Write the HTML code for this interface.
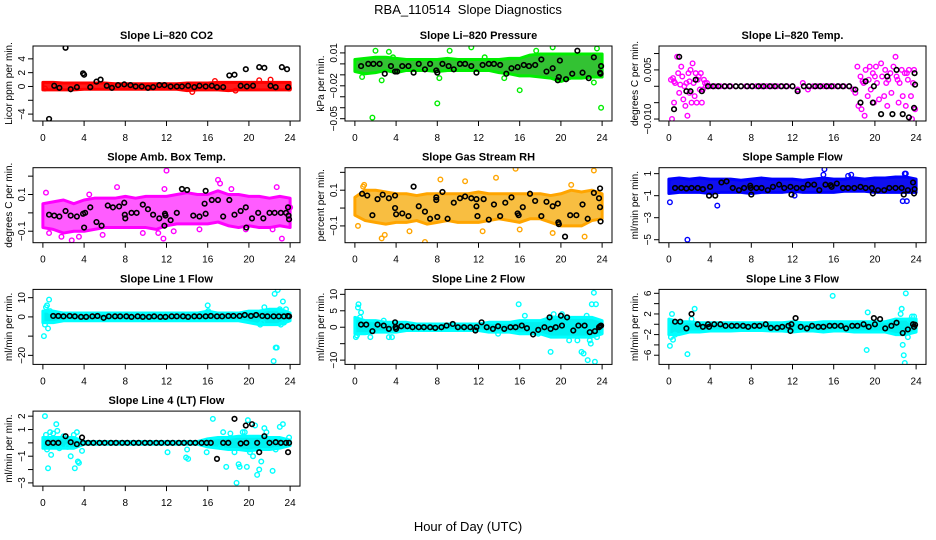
<!DOCTYPE html>
<html><head><meta charset="utf-8">
<style>
html,body{margin:0;padding:0;background:#fff;}
svg{display:block;font-family:"Liberation Sans",Arial,sans-serif;}
</style></head>
<body>
<svg id="chart" width="936" height="540" viewBox="0 0 936 540" xmlns="http://www.w3.org/2000/svg">
<rect width="936" height="540" fill="#fff"/>
<text x="468" y="14" text-anchor="middle" font-size="13">RBA_110514&#160; Slope Diagnostics</text>
<text x="468" y="531" text-anchor="middle" font-size="13">Hour of Day (UTC)</text>
</svg>
<script>
// ---- data (hours 0..24 for band envelopes) ----
const bandHours = [0,1,2,3,4,5,6,7,8,9,10,11,12,13,14,15,16,17,18,19,20,21,22,23,24];
const xTicks = [0,4,8,12,16,20,24];

// P1 CO2
const co2Hi = [0.6,0.6,0.5,0.5,0.5,0.5,0.5,0.4,0.4,0.4,0.4,0.4,0.4,0.4,0.5,0.5,0.5,0.6,0.6,0.6,0.6,0.6,0.6,0.6,0.6];
const co2Lo = [-0.5,-0.5,-0.5,-0.5,-0.4,-0.4,-0.4,-0.4,-0.4,-0.4,-0.4,-0.4,-0.4,-0.4,-0.6,-0.5,-0.5,-0.5,-0.6,-0.5,-0.5,-0.5,-0.5,-0.5,-0.5];
const co2Col = [[0.2,-0.3],[14.5,-0.8],[16.7,0.8],[18.7,-0.6],[21,0.9],[22.1,1.0],[23.9,-0.3]];
const co2Blk = [[0.6,-4.7],[1.1,0.1],[1.6,-0.2],[2.2,5.6],[2.7,-0.4],[3.3,-0.1],[3.9,1.9],[4.0,1.7],[4.6,-0.1],[5.2,0.7],[5.6,1.0],[6.2,0.1],[6.7,-0.2],[7.3,0.2],[7.9,0.3],[8.5,0.2],[9.0,0],[9.6,0],[10.2,-0.2],[10.7,-0.1],[11.3,0.2],[11.8,0.2],[12.4,0],[13.0,0],[13.5,0],[14.1,0.1],[14.7,-0.1],[15.2,0.1],[15.8,0],[16.4,0.1],[16.9,-0.1],[17.5,-0.1],[18.1,1.6],[18.6,1.7],[19.2,0.1],[19.7,2.5],[19.8,0],[20.4,0.1],[21.0,2.8],[21.5,2.7],[22.1,0.1],[22.6,-0.1],[23.2,2.8],[23.7,2.5],[23.8,-0.1]];
const co2Ticks = [-4,-2,0,2,4];
const co2Labels = ["−4","","0","2","4"];

// P2 Pressure
const presHi = [0.004,0.005,0.006,0.006,0.005,0.004,0.004,0.004,0.004,0.005,0.004,0.004,0.004,0.004,0.004,0.005,0.005,0.008,0.009,0.009,0.009,0.009,0.009,0.009,0.009];
const presLo = [-0.007,-0.009,-0.008,-0.006,-0.008,-0.006,-0.006,-0.006,-0.007,-0.006,-0.006,-0.006,-0.006,-0.006,-0.008,-0.009,-0.011,-0.011,-0.012,-0.013,-0.016,-0.013,-0.013,-0.012,-0.012];
const presCol = [[1.7,-0.049],[8,-0.036],[16,-0.024],[23.9,-0.040],[2,0.012],[3.3,0.011],[9.2,0.012],[11.3,0.015],[17.6,0.012],[19.2,0.015],[23.5,0.014],[2.6,-0.015],[8.2,-0.013],[14.5,-0.013],[23.2,-0.017],[0.7,-0.012],[3.7,0.006],[12.6,0.006]];
const presBlk = [[0.6,-0.002],[1.3,0],[1.8,0],[2.4,0],[2.9,-0.009],[3.5,-0.002],[3.9,-0.007],[4.1,-0.007],[4.6,-0.002],[5.2,-0.002],[5.7,-0.008],[6.2,0],[6.8,-0.005],[7.3,0],[7.9,-0.006],[8.0,-0.008],[8.5,0],[9.1,-0.002],[9.6,-0.005],[10.2,0],[10.7,0],[11.3,-0.002],[11.8,-0.008],[12.4,-0.001],[13,0],[13.5,0],[14.1,-0.001],[14.7,-0.009],[15.2,-0.004],[15.8,-0.003],[16.4,-0.001],[16.9,-0.002],[17.5,-0.001],[18.1,0.004],[18.6,-0.007],[19.2,-0.004],[19.7,-0.015],[19.8,-0.012],[19.9,0.003],[20.5,-0.014],[21.1,-0.009],[21.6,0.012],[22.1,-0.008],[22.7,-0.013],[23.2,0.006],[23.8,-0.008],[23.85,-0.009],[23.9,-0.002]];
const presTicks = [0.01,0,-0.01,-0.02,-0.03,-0.04,-0.05];
const presLabels = ["0.01","","","−0.02","","","−0.05"];

// P3 Li-820 Temp
const tempCol = [[0.2,0.002],[0.3,-0.01],[0.4,0.0025],[0.5,-0.005],[0.6,0.001],[0.8,0.009],[0.9,0.004],[1.0,-0.002],[1.2,0.006],[1.3,0.003],[1.4,-0.004],[1.5,0.0],[1.6,-0.006],[1.7,0.001],[1.8,-0.009],[1.9,0.004],[2.0,-0.002],[2.1,0.005],[2.2,-0.005],[2.3,0.007],[2.4,0.001],[2.5,-0.003],[2.6,0.004],[2.7,-0.005],[2.8,0.002],[2.9,0.003],[3.0,-0.001],[3.1,0.004],[3.2,-0.005],[3.4,0.002],[3.5,0.001],[3.6,0.0],[3.7,0.001],[0.5,0.0015],[1.1,0.0005],[2.0,0.0015],[3.3,-0.001],
[4,0],[4.5,0],[5,0],[5.5,0],[6,0],[6.5,0],[7,0],[7.5,0],[8,0],[8.5,0],[9,0],[9.5,0],[10,0],[10.5,0],[11,0],[11.5,0],[12,0],[12.5,-0.001],[13,0.001],[13.5,-0.001],[14,0],[14.5,0],[15,0],[15.5,0],[16,0],[16.5,0],[17,0],[17.5,0],
[17.9,-0.001],[18.1,-0.002],[18.3,0.006],[18.4,-0.006],[18.6,0.003],[18.7,-0.007],[18.9,0.001],[19.0,-0.009],[19.1,0.005],[19.3,-0.003],[19.4,0.002],[19.5,0.006],[19.6,-0.001],[19.8,0.004],[19.9,-0.005],[20.1,0.006],[20.2,0.001],[20.4,-0.004],[20.6,0.007],[20.7,0.003],[20.9,-0.003],[21.0,0.005],[21.2,-0.006],[21.3,0.002],[21.5,0.004],[21.6,-0.002],[21.8,0.006],[22.0,0.009],[22.1,0.003],[22.3,-0.005],[22.4,0.001],[22.6,0.005],[22.7,-0.003],[22.9,0.004],[23.0,-0.006],[23.2,0.002],[23.3,0.005],[23.5,-0.003],[23.6,-0.01],[23.7,0.001],[23.8,0.005],[23.9,-0.007],[18.8,0.0015],[20.0,0.003],[21.1,0.001],[22.2,0.002],[23.1,0.004]];
const tempBlk = [[0.5,-0.007],[1.0,0.009],[1.7,-0.0015],[2.1,-0.0015],[2.6,0.002],[3.2,-0.0015],[3.8,0],[4.3,0],[4.8,0],[5.4,0],[5.9,0],[6.5,0],[7.0,0],[7.6,0],[8.1,0],[8.7,0],[9.2,0],[9.8,0],[10.3,0],[10.9,0],[11.4,0],[12.0,0],[12.5,-0.0015],[13.1,0],[13.6,0],[14.2,0],[14.7,0],[15.3,0],[15.8,0],[16.4,0],[16.9,0],[17.5,0],[18.1,-0.001],[18.6,-0.005],[19.1,0.0015],[19.8,-0.005],[19.9,0],[20.6,-0.0085],[21.2,0.003],[21.7,-0.0085],[22.1,0.005],[22.7,-0.0085],[23.3,-0.0095],[23.8,-0.0066],[23.85,0.004],[23.9,0.0005]];
const tempTicks = [0.01,0.005,0,-0.005,-0.01];
const tempLabels = ["","0.005","","","−0.010"];

// P4 Amb Box Temp
const ambHi = [0.05,0.06,0.07,0.05,0.07,0.08,0.08,0.08,0.09,0.08,0.09,0.09,0.09,0.1,0.11,0.1,0.1,0.12,0.1,0.1,0.09,0.09,0.08,0.09,0.08];
const ambLo = [-0.08,-0.09,-0.11,-0.1,-0.1,-0.09,-0.08,-0.08,-0.08,-0.08,-0.08,-0.09,-0.07,-0.06,-0.06,-0.06,-0.06,-0.05,-0.07,-0.08,-0.07,-0.08,-0.08,-0.07,-0.08];
const ambCol = [[0.3,0.11],[0.6,-0.11],[1.8,-0.13],[2.8,-0.15],[3.5,-0.13],[4.5,0.1],[5.8,-0.12],[7.2,0.14],[9.7,-0.11],[11.2,-0.11],[11.7,-0.14],[12,0.23],[12.7,-0.1],[11.8,0.13],[15.2,-0.09],[17,0.18],[17.2,0.16],[18.3,0.13],[19.7,-0.09],[22.7,0.14],[23.2,-0.14],[22.3,-0.09],[24,0.03]];
const ambBlk = [[0.6,-0.01],[1.1,-0.015],[1.6,-0.02],[2.2,0.01],[2.7,-0.015],[3.3,-0.02],[3.9,-0.005],[4.0,-0.08],[4.1,0],[4.6,0.03],[5.2,-0.05],[5.7,-0.07],[6.3,0.04],[6.8,0.03],[7.4,0.035],[7.9,0.055],[7.95,-0.01],[8.0,-0.03],[8.6,0],[9.1,0],[9.7,0.045],[10.2,0.02],[10.7,-0.01],[11.3,-0.03],[11.8,-0.07],[11.85,-0.005],[11.9,-0.015],[12.4,-0.04],[13,0],[13.5,0.13],[14.0,0.125],[14.6,-0.015],[15.2,-0.02],[15.8,0.12],[15.7,0.05],[15.8,-0.005],[16.4,0.07],[17.0,0.07],[17.5,-0.02],[18.1,0.07],[18.6,-0.01],[19.2,0.01],[19.7,0.03],[19.75,-0.08],[20.3,-0.03],[20.9,0],[21.4,-0.03],[22.0,0],[22.5,0],[23.1,0],[23.6,0],[23.8,0.03],[23.85,-0.015],[23.9,-0.035]];
const ambTicks = [0.2,0.1,0,-0.1];
const ambLabels = ["","0.1","","−0.1"];

// P5 Gas Stream RH
const rhHi = [0.06,0.1,0.1,0.09,0.08,0.08,0.07,0.08,0.08,0.08,0.08,0.08,0.09,0.08,0.08,0.08,0.08,0.08,0.08,0.07,0.08,0.1,0.09,0.1,0.08];
const rhLo = [-0.04,-0.07,-0.08,-0.09,-0.08,-0.08,-0.07,-0.09,-0.08,-0.07,-0.08,-0.08,-0.08,-0.07,-0.06,-0.07,-0.08,-0.06,-0.06,-0.08,-0.1,-0.1,-0.1,-0.07,-0.06];
const rhCol = [[0.3,-0.1],[0.9,0.13],[2.6,-0.17],[2.9,-0.15],[5.3,-0.13],[6.8,-0.19],[8.3,0.16],[10.7,0.15],[12.4,-0.13],[13.7,0.17],[15.6,0.22],[16,-0.12],[19.2,-0.14],[21,0.13],[22.3,-0.16],[23.2,0.21],[0.8,0.12]];
const rhBlk = [[0.7,0.08],[1.2,0.07],[1.7,-0.04],[2.2,0.05],[2.7,0.075],[3.3,0.055],[3.9,0.07],[3.9,0],[4.0,-0.035],[4.6,-0.03],[5.2,-0.045],[5.7,0.12],[6.2,0.01],[6.8,-0.02],[7.3,-0.06],[7.9,0.06],[7.9,0.045],[8.0,-0.05],[8.5,0.09],[9.0,-0.06],[9.6,0.03],[10.2,0.055],[10.7,0.065],[11.3,0.055],[11.8,0.05],[11.8,0.01],[11.9,-0.045],[12.5,0.05],[13,-0.065],[13.5,0.02],[14.1,-0.045],[14.6,0.03],[15.2,0.06],[15.8,-0.03],[15.9,-0.04],[16.3,0.005],[17.0,0.08],[17.5,0.04],[18.1,-0.045],[18.6,0.035],[19.2,0.01],[19.7,0.025],[19.75,-0.08],[19.8,-0.09],[20.4,-0.16],[20.9,-0.04],[21.5,-0.04],[22.1,0.02],[22.6,-0.06],[23.2,0.085],[23.7,0.055],[23.8,0.11],[23.8,0.005],[23.85,-0.075]];
const rhTicks = [0.2,0.1,0,-0.1];
const rhLabels = ["","0.1","","−0.1"];

// P6 Sample Flow
const sampHi = [0.5,0.6,0.5,0.6,0.5,0.5,0.5,0.4,0.5,0.6,0.5,0.5,0.5,0.4,0.5,0.6,0.5,0.5,0.6,0.5,0.6,0.6,0.7,0.7,0.5];
const sampLo = [-0.8,-0.7,-0.7,-0.7,-0.8,-0.7,-0.7,-0.7,-0.8,-0.7,-0.7,-0.7,-0.6,-0.7,-0.7,-0.7,-0.7,-0.6,-0.6,-0.6,-0.7,-0.7,-0.7,-0.7,-0.7];
const sampCol = [[0.1,-1.6],[1.8,-5.0],[4.7,-1.9],[15.1,1.4],[15.0,0.9],[17.4,0.8],[17.7,0.9],[22.7,-1.5],[23.1,-1.5],[22.9,1],[23.0,1],[12.2,-1.0]];
const sampBlk = [[0.6,-0.3],[1.2,-0.3],[1.7,-0.35],[2.2,-0.3],[2.8,-0.3],[3.3,-0.4],[3.9,-1.0],[4.0,-0.2],[4.5,-1.0],[5.1,0.2],[5.6,0.3],[6.2,-0.3],[6.8,-0.5],[7.3,-0.3],[7.9,-0.1],[7.95,-0.3],[8.0,-0.9],[8.5,-0.3],[9.0,-0.3],[9.6,-0.5],[10.1,-0.2],[10.7,0],[11.2,-0.3],[11.8,-0.2],[11.9,-0.9],[12.4,-0.3],[13,-0.3],[13.5,0],[14.1,0],[14.6,-0.5],[15.2,0],[15.7,-0.05],[15.8,-0.2],[16.3,0.1],[16.9,-0.3],[17.4,-0.3],[18.0,-0.3],[18.6,-0.2],[19.1,-0.3],[19.7,-0.3],[19.8,-0.8],[20.3,-0.5],[20.9,-0.5],[21.4,-0.3],[22.0,-0.3],[22.6,-0.3],[22.8,-0.9],[23.2,-0.5],[23.7,0.2],[23.8,-0.8],[23.85,-0.4]];
const sampTicks = [1,-1,-3,-5];
const sampLabels = ["1","−1","−3","−5"];

// P7 Line 1
const l1Hi = [3,3,2,2,2,2,2,2,2,2,2,2,2,2,2,2,3,2,2,2,3,3,4,4,2];
const l1Lo = [-3,-3,-2,-2,-2,-2,-2,-2,-2,-2,-2,-2,-2,-2,-2,-2,-2,-2,-2,-2,-3,-4,-4,-4,-2];
const l1Col = [[0.1,-10],[0.2,-4],[0.3,5],[0.4,6],[0.5,-6],[0.6,9],[0.7,3],[16,6],[16.05,3],[21.5,5],[21.3,-3],[22.4,-23],[22.6,-16],[22.7,-16],[22.5,12],[22.8,14],[23.0,4],[23.3,8],[23.4,-3],[23.6,4],[21.1,-4],[23.1,-4]];
const l1Blk = [[1.0,0.5],[1.5,0.5],[2.0,0.3],[2.6,0.5],[3.1,0.3],[3.7,0],[4.2,0],[4.8,0.3],[5.3,0.5],[5.9,-0.5],[6.4,0.3],[7.0,0.3],[7.5,0.3],[8.1,0.3],[8.6,0],[9.2,0.3],[9.7,0],[10.3,0],[10.8,0.3],[11.4,0],[11.9,0],[12.5,0.3],[13.0,0.3],[13.6,0.3],[14.1,0],[14.7,0.3],[15.2,0.3],[15.8,0.3],[16.3,0.5],[16.9,0.3],[17.4,0.3],[18.0,0.5],[18.5,0.5],[19.1,0.5],[19.6,1],[20.2,0.5],[20.7,1],[21.3,0.5],[21.8,0.3],[22.4,0.3],[22.9,0.3],[23.4,0.3],[23.8,0.5],[23.9,0.3]];
const l1Ticks = [10,0,-10,-20];
const l1Labels = ["10","0","","−20"];

// P8 Line 2
const l2Hi = [3,2,2,1.5,1.5,1.5,1,1,1,1,1,1,1,1.5,1.5,1.5,2,2,2,3,3,3,3,3,2];
const l2Lo = [-2,-2,-1.5,-1.5,-1.5,-1,-1,-1,-1,-1,-1,-1,-1,-1.5,-1.5,-1.5,-2,-2,-2,-3,-3,-3,-3,-3,-2];
const l2Col = [[0.1,-3],[0.2,-2.5],[0.3,6],[0.35,7],[0.5,3],[0.6,4.5],[1.5,-3],[2.8,2],[3.3,-3],[3.6,-3],[13.9,-2],[15.9,7],[16.5,3.5],[17.8,-2],[19.0,-7.5],[19.3,4],[20.1,4],[20.8,-4],[21.6,-4],[22.0,-7.5],[22.2,-8],[22.5,3.5],[22.6,-10],[22.8,-4],[23.0,7],[23.2,10.5],[23.3,-10.5],[23.4,7],[23.5,-3],[22.9,-5]];
const l2Blk = [[0.6,0.8],[1.1,0.8],[1.7,-1.2],[2.2,0.8],[2.8,0.5],[3.3,-0.5],[3.9,1.5],[3.95,0],[4.0,-0.5],[4.5,0.3],[5.1,0.3],[5.6,0],[6.2,0],[6.7,0],[7.3,0],[7.8,-0.2],[8.4,0],[8.9,0.5],[9.5,1],[10.0,0],[10.6,0],[11.2,0],[11.7,-1],[11.8,0],[12.3,1.5],[12.8,0],[13.4,-0.5],[13.9,0.3],[14.5,-0.5],[15.1,0],[15.6,0],[16.2,0.5],[16.7,-0.3],[17.3,-2.2],[17.8,-0.8],[18.4,0],[18.9,3],[19.0,-0.5],[19.5,0],[20.0,3.5],[20.1,0.5],[20.6,3],[21.2,-1],[21.7,0.5],[22.3,0.5],[22.8,-1.5],[23.3,-1.2],[23.7,0],[23.8,0.3],[23.9,0.5]];
const l2Ticks = [10,5,0,-5,-10];
const l2Labels = ["10","5","0","","−10"];

// P9 Line 3
const l3Hi = [1,0.5,0.5,0.3,0.3,0.3,0.3,0.3,0.3,0.3,0.3,0.3,0.5,0.3,0.3,0.5,0.5,0.5,0.5,0.5,0.5,0.5,1,1,1];
const l3Lo = [-2,-2,-1.5,-1.5,-1.3,-1.3,-1.3,-1.2,-1.2,-1.2,-1.3,-1.3,-1.5,-1.3,-1.3,-1.5,-1.3,-1.3,-1.5,-1.5,-1.5,-1.5,-2,-2,-1.5];
const l3Col = [[0.1,-4.2],[0.2,-2.5],[0.3,2],[0.4,-3],[0.6,-2],[1.8,-5.8],[2.2,1],[2.5,3],[15.9,5.5],[19.2,-5],[19.3,2.3],[22.5,2],[22.6,3],[22.7,-4],[22.8,-6],[22.9,-7.5],[23.0,6],[23.2,-2.5],[23.4,0.8],[23.6,1.5],[23.8,1.5]];
const l3Blk = [[0.6,0.5],[1.1,0.5],[1.7,-0.8],[2.2,2],[2.8,0],[3.3,-0.5],[3.8,0],[3.9,-0.5],[4.4,0],[5.0,0],[5.5,-0.3],[6.1,-0.3],[6.6,-0.3],[7.2,-0.3],[7.7,-0.5],[8.3,-0.3],[8.8,-0.3],[9.4,0],[9.9,-0.7],[10.5,-0.7],[11.0,-0.5],[11.6,-0.3],[11.8,-1.3],[11.9,0],[12.3,1.2],[12.8,-0.5],[13.4,-0.8],[13.9,-0.3],[14.5,-0.5],[15.0,-0.5],[15.6,-0.3],[16.1,-0.3],[16.7,-0.3],[17.2,-0.8],[17.8,-0.3],[18.3,-0.3],[18.9,0],[19.4,-0.5],[19.9,1.2],[20.0,0],[20.5,1],[21.0,-0.8],[21.6,-0.3],[22.1,0.3],[22.7,-1.7],[23.2,-1],[23.7,0],[23.8,-0.5],[23.9,-0.1]];
const l3Ticks = [6,4,2,0,-2,-4,-6];
const l3Labels = ["6","","2","","−2","","−6"];

// P10 Line 4 (LT)
const l4Hi = [0.4,0.4,0.4,0.4,0.1,0.1,0.1,0.1,0.1,0.1,0.1,0.1,0.1,0.1,0.1,0.1,0.3,0.4,0.4,0.5,0.5,0.5,0.4,0.4,0.2];
const l4Lo = [-0.4,-0.4,-0.4,-0.4,-0.1,-0.1,-0.1,-0.1,-0.1,-0.1,-0.1,-0.1,-0.1,-0.1,-0.1,-0.1,-0.3,-0.4,-0.5,-0.5,-0.6,-0.5,-0.5,-0.4,-0.2];
const l4Col = [[0.2,2],[0.3,0.6],[0.4,-0.5],[0.5,-1.9],[0.7,0.8],[0.8,-0.9],[1.0,0.7],[1.3,1.4],[1.4,0.9],[1.6,-0.4],[2.0,0.5],[2.4,-0.3],[2.7,-1],[3.0,0.6],[3.1,-1.9],[3.3,0.8],[3.4,-1.4],[3.5,-1.5],[3.8,-0.6],[12.1,-0.7],[13.9,-1.1],[14.1,-1.2],[14.0,-0.5],[15.9,-0.7],[16.5,1.8],[17.5,0.8],[17.8,-1.8],[18.2,0.7],[18.8,-3],[18.6,-0.7],[19.0,-1.6],[19.4,0.8],[19.1,-1.8],[19.8,-1.8],[19.9,1.7],[20.1,-0.7],[20.4,-1],[20.6,1.3],[20.8,-2.4],[21.0,-2],[21.2,-1.4],[21.5,1.1],[21.7,0.8],[22.3,-2.1],[22.6,-0.5],[23.0,1.2],[23.3,1.4],[23.9,0.4],[19.6,0.8],[17.3,-0.3]];
const l4Blk = [[0.5,0],[1.0,0],[1.5,0],[2.2,0.5],[2.7,0.05],[3.3,-0.1],[3.8,0.4],[3.9,0],[4.4,0],[4.9,0],[5.5,0],[6.0,0],[6.6,0],[7.1,0],[7.7,0],[8.2,0],[8.8,0],[9.3,0],[9.9,0],[10.4,0],[11.0,0],[11.5,0],[12.1,0],[12.6,0],[13.2,0],[13.7,0],[14.3,0],[14.8,0],[15.4,0],[15.9,0],[16.3,0],[16.9,-1.2],[17.5,0],[18.0,0],[18.6,1.8],[19.2,-0.05],[19.7,1.3],[19.75,0],[20.3,1.4],[20.8,0],[21.0,-0.7],[21.5,0.5],[22.0,0],[22.6,0.05],[23.1,0],[23.6,0],[23.8,-0.7],[23.9,0]];
const l4Ticks = [2,1,0,-1,-2,-3];
const l4Labels = ["2","1","","−1","","−3"];

// ---- rendering ----
const NS = "http://www.w3.org/2000/svg";
const svg = document.getElementById('chart');
const colLeft = [33,345,659];
const boxW = 267, boxH = 75;
function rowTop(r){ return 46 + 121.7*r; }
function mk(tag, attrs, parent){
  const e = document.createElementNS(NS, tag);
  for (const k in attrs) e.setAttribute(k, attrs[k]);
  (parent||svg).appendChild(e);
  return e;
}
const panels = [
  {key:"co2",title:"Slope Li\u2013820 CO2",ylab:"Licor ppm per min.",ylim:[-5,5.86],hi:co2Hi,lo:co2Lo,col:co2Col,blk:co2Blk,ticks:co2Ticks,labels:co2Labels,color:"#ff0000",band:"#ff1a1a",op:1},
  {key:"pressure",title:"Slope Li\u2013820 Pressure",ylab:"kPa per min.",ylim:[-0.0521,0.0163],hi:presHi,lo:presLo,col:presCol,blk:presBlk,ticks:presTicks,labels:presLabels,color:"#00ee00",band:"#33c233",op:1},
  {key:"li820-temp",title:"Slope Li\u2013820 Temp.",ylab:"degrees C per min.",ylim:[-0.0106,0.0123],hi:null,lo:null,col:tempCol,blk:tempBlk,ticks:tempTicks,labels:tempLabels,color:"#ff00ff",band:"#ff00ff",op:1},
  {key:"amb-box-temp",title:"Slope Amb. Box Temp.",ylab:"degrees C per min.",ylim:[-0.1625,0.246],hi:ambHi,lo:ambLo,col:ambCol,blk:ambBlk,ticks:ambTicks,labels:ambLabels,color:"#ff00ff",band:"#ff33ff",op:0.8},
  {key:"gas-stream-rh",title:"Slope Gas Stream RH",ylab:"percent per min.",ylim:[-0.194,0.226],hi:rhHi,lo:rhLo,col:rhCol,blk:rhBlk,ticks:rhTicks,labels:rhLabels,color:"#ffa500",band:"#f7b320",op:0.85},
  {key:"sample-flow",title:"Slope Sample Flow",ylab:"ml/min per min.",ylim:[-5.27,1.54],hi:sampHi,lo:sampLo,col:sampCol,blk:sampBlk,ticks:sampTicks,labels:sampLabels,color:"#0000ff",band:"#1010f0",op:1},
  {key:"line1-flow",title:"Slope Line 1 Flow",ylab:"ml/min per min.",ylim:[-24.7,14.3],hi:l1Hi,lo:l1Lo,col:l1Col,blk:l1Blk,ticks:l1Ticks,labels:l1Labels,color:"#00ffff",band:"#00f0f0",op:1},
  {key:"line2-flow",title:"Slope Line 2 Flow",ylab:"ml/min per min.",ylim:[-11.3,11.5],hi:l2Hi,lo:l2Lo,col:l2Col,blk:l2Blk,ticks:l2Ticks,labels:l2Labels,color:"#00ffff",band:"#00f0f0",op:1},
  {key:"line3-flow",title:"Slope Line 3 Flow",ylab:"ml/min per min.",ylim:[-7.78,6.76],hi:l3Hi,lo:l3Lo,col:l3Col,blk:l3Blk,ticks:l3Ticks,labels:l3Labels,color:"#00ffff",band:"#00f0f0",op:1},
  {key:"line4-flow",title:"Slope Line 4 (LT) Flow",ylab:"ml/min per min.",ylim:[-3.24,2.38],hi:l4Hi,lo:l4Lo,col:l4Col,blk:l4Blk,ticks:l4Ticks,labels:l4Labels,color:"#00ffff",band:"#00f0f0",op:1}
];

panels.forEach((p, i) => {
  const r = Math.floor(i/3), c = i%3;
  const L = colLeft[c], T = rowTop(r);
  const xs = h => L + (h + 0.96) / 25.92 * boxW;
  const ys = v => T + (p.ylim[1] - v) / (p.ylim[1] - p.ylim[0]) * boxH;
  const g = mk('g', {});
  
  
  const clipId = 'clip' + i;
  const cp = mk('clipPath', {id: clipId}, g);
  mk('rect', {x: L, y: T, width: boxW, height: boxH}, cp);
  const plot = mk('g', {'clip-path': 'url(#' + clipId + ')'}, g);
  if (p.hi) {
    let pts = bandHours.map((h, k) => xs(h) + ',' + ys(p.hi[k]));
    for (let k = bandHours.length - 1; k >= 0; k--) pts.push(xs(bandHours[k]) + ',' + ys(p.lo[k]));
    const band = mk('polygon', {points: pts.join(' '), fill: p.band, 'fill-opacity': p.op, stroke: p.color, 'stroke-width': 3, 'stroke-linejoin': 'round'}, plot);
    
    
  }
  p.col.forEach(d => {
    const cc = mk('circle', {cx: xs(d[0]), cy: ys(d[1]), r: 2.3, fill: 'none', stroke: p.color, 'stroke-width': 1.4}, plot);
    
    
  });
  p.blk.forEach(d => {
    const cc = mk('circle', {cx: xs(d[0]), cy: ys(d[1]), r: 2.3, fill: 'none', stroke: '#000', 'stroke-width': 1.6}, plot);
    
    
  });
  const box = mk('rect', {x: L, y: T, width: boxW, height: boxH, fill: 'none', stroke: '#000', 'stroke-width': 1}, g);
  
  
  const tt = mk('text', {x: L + boxW/2, y: T - 7, 'text-anchor': 'middle', 'font-size': 11, 'font-weight': 'bold'}, g);
  tt.textContent = p.title;
  
  
  xTicks.forEach(h => {
    mk('line', {x1: xs(h), x2: xs(h), y1: T + boxH, y2: T + boxH + 5, stroke: '#000'}, g);
    const tl = mk('text', {x: xs(h), y: T + boxH + 20, 'text-anchor': 'middle', 'font-size': 10}, g);
    tl.textContent = h;
    
    
  });
  p.ticks.forEach((v, k) => {
    mk('line', {x1: L - 5, x2: L, y1: ys(v), y2: ys(v), stroke: '#000'}, g);
    if (p.labels[k]) {
      const yl = mk('text', {x: 0, y: 0, 'text-anchor': 'middle', 'font-size': 10, transform: 'translate(' + (L - 8) + ',' + ys(v) + ') rotate(-90)'}, g);
      yl.textContent = p.labels[k];
      
      
    }
  });
  const yt = mk('text', {x: 0, y: 0, 'text-anchor': 'middle', 'font-size': 10, transform: 'translate(' + (L - 21) + ',' + (T + boxH/2) + ') rotate(-90)'}, g);
  yt.textContent = p.ylab;
  
  
});
</script>
</body></html>
